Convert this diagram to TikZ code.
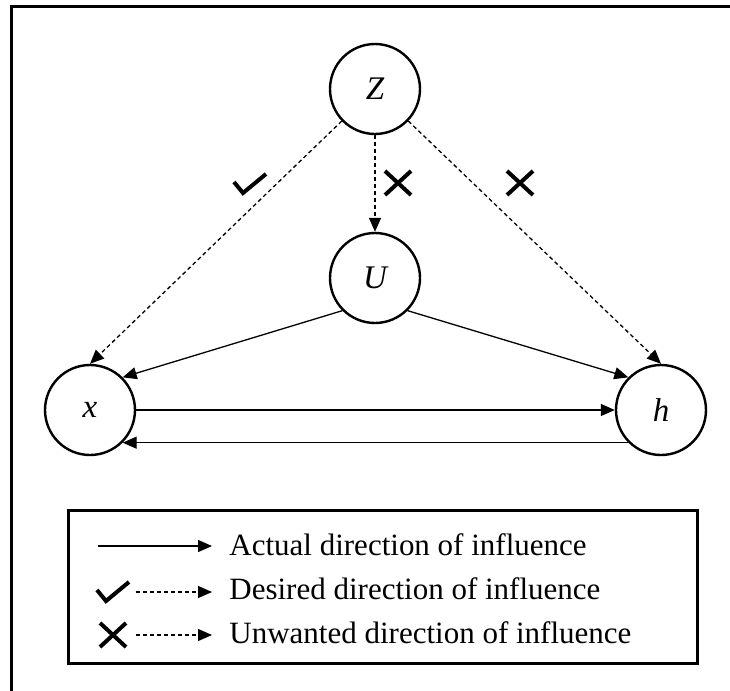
\documentclass[tikz,border=0pt]{standalone}
\usepackage{fontspec}
\setmainfont{Liberation Serif}
\usepackage{tikz}
\usetikzlibrary{arrows.meta}

\tikzset{
  var/.style={draw,circle,line width=1.2pt,minimum size=45pt,inner sep=0pt,
    font=\fontsize{16.5}{18}\selectfont\itshape},
  infl/.style={line width=0.65pt,-{Triangle[length=7pt,width=6pt]}},
  wish/.style={infl,dash pattern=on 2pt off 1.5pt},
  checkmk/.pic={\draw[line width=2pt] (-16,-1) -- (-7,10) -- (16,-9);},
  crossmk/.pic={\draw[line width=2pt] (-13,-12) -- (13,12) (-13,12) -- (13,-12);}
}

\begin{document}
\begin{tikzpicture}[x=0.5pt,y=-0.5pt]
    \useasboundingbox (0,0) rectangle (730,691);
    \draw[line width=1.5pt] (11,6) rectangle (760,720);
    %
    \node[var] (Z) at (375,89) {Z};
    \node[var] (U) at (375,278) {U};
    \node[var] (x) at (90,410) {x};
    \node[var] (h) at (661,410) {h};
    %
    \draw[wish] (Z) -- (U);
    \draw[wish] (Z) -- (x.north);
    \draw[wish] (Z) -- (h.north);
    \draw[infl] (U.south west) -- (x.north east);
    \draw[infl] (U.south east) -- (h.north west);
    \draw[infl] (x.east) -- (h.west);
    \draw[infl] (h.south west) -- (x.south east);
    %
    \pic at (250,183) {checkmk};
    \pic at (398,183) {crossmk};
    \pic at (520,183) {crossmk};
    %
    \draw[line width=1.5pt] (68,510) rectangle (697,663);
    \coordinate (a1) at (98,546);  \coordinate (a2) at (212,546);
    \coordinate (d1) at (136,592); \coordinate (d2) at (212,592);
    \coordinate (u1) at (136,635); \coordinate (u2) at (212,635);
    \draw[infl] (a1) -- (a2);
    \draw[wish] (d1) -- (d2);
    \draw[wish] (u1) -- (u2);
    \pic at (113,591) {checkmk};
    \pic at (113,635) {crossmk};
    \node[anchor=base west,inner sep=0pt,font=\fontsize{15.5}{18}\selectfont] (t1) at (229,555) {Actual direction of influence};
    \node[anchor=base west,inner sep=0pt,font=\fontsize{15.5}{18}\selectfont] (t2) at (229,599) {Desired direction of influence};
    \node[anchor=base west,inner sep=0pt,font=\fontsize{15.5}{18}\selectfont] (t3) at (229,643) {Unwanted direction of influence};
\end{tikzpicture}
\end{document}
